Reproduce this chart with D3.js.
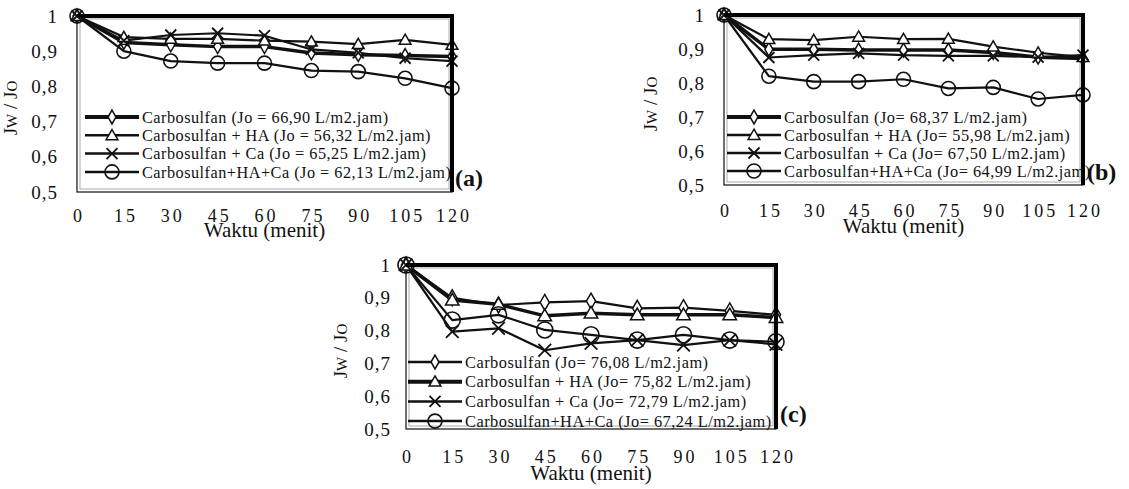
<!DOCTYPE html>
<html>
<head>
<meta charset="utf-8">
<script src="https://cdn.jsdelivr.net/npm/d3@7"></script>
<style>
  body { margin: 0; background: #fff; }
  svg text { font-family: "Liberation Serif", "Times New Roman", serif; fill: #111; }
  .tick-x { letter-spacing: 3px; }
  .leg { letter-spacing: 0.5px; }
</style>
</head>
<body>
<svg id="chart" width="1129" height="489"></svg>
<script>
// x values (minutes) and axis ticks
const waktu = [0, 15, 30, 45, 60, 75, 90, 105, 120];
const yTicks = [0.5, 0.6, 0.7, 0.8, 0.9, 1];

// panel (a)
const legendA = ["Carbosulfan (Jo = 66,90 L/m2.jam)", "Carbosulfan + HA (Jo = 56,32 L/m2.jam)",
                 "Carbosulfan + Ca (Jo = 65,25 L/m2.jam)", "Carbosulfan+HA+Ca (Jo = 62,13 L/m2.jam)"];
const carboA = [1, 0.925, 0.918, 0.913, 0.913, 0.895, 0.89, 0.888, 0.885];
const haA    = [1, 0.94, 0.935, 0.935, 0.93, 0.927, 0.92, 0.932, 0.918];
const caA    = [1, 0.93, 0.946, 0.951, 0.944, 0.905, 0.895, 0.88, 0.872];
const hacaA  = [1, 0.9, 0.872, 0.866, 0.866, 0.845, 0.842, 0.823, 0.795];

// panel (b)
const legendB = ["Carbosulfan (Jo= 68,37 L/m2.jam)", "Carbosulfan + HA (Jo= 55,98 L/m2.jam)",
                 "Carbosulfan + Ca (Jo= 67,50 L/m2.jam)", "Carbosulfan+HA+Ca (Jo= 64,99 L/m2.jam)"];
const carboB = [1, 0.899, 0.899, 0.897, 0.897, 0.897, 0.89, 0.876, 0.872];
const haB    = [1, 0.929, 0.926, 0.936, 0.929, 0.93, 0.907, 0.889, 0.876];
const caB    = [1, 0.875, 0.882, 0.887, 0.882, 0.88, 0.88, 0.876, 0.882];
const hacaB  = [1, 0.82, 0.804, 0.804, 0.811, 0.784, 0.787, 0.753, 0.765];

// panel (c)
const legendC = ["Carbosulfan (Jo= 76,08 L/m2.jam)", "Carbosulfan + HA (Jo= 75,82 L/m2.jam)",
                 "Carbosulfan + Ca (Jo= 72,79 L/m2.jam)", "Carbosulfan+HA+Ca (Jo= 67,24 L/m2.jam)"];
const carboC = [1, 0.9, 0.878, 0.886, 0.89, 0.868, 0.87, 0.86, 0.848];
const haC    = [1, 0.893, 0.88, 0.845, 0.853, 0.848, 0.848, 0.848, 0.84];
const caC    = [1, 0.797, 0.807, 0.74, 0.761, 0.771, 0.756, 0.771, 0.758];
const hacaC  = [1, 0.832, 0.848, 0.802, 0.787, 0.771, 0.787, 0.771, 0.766];

const markers = ["diamond", "triangle", "cross", "circle"];

// legW = width of the first legend entry's text in the reference
const panels = [
  { tag: "(a)", legend: legendA, series: [carboA, haA, caA, hacaA], thick: 0, clip: true,
    x0: 77, x1: 452, yTop: 16, yBot: 192, tickY: 216, titleY: 237, yLabelX: 17, yTickGap: 19,
    legX: 85, legY: 117, legDy: 18.3, legW: 246, tagX: 455, tagY: 186 },
  { tag: "(b)", legend: legendB, series: [carboB, haB, caB, hacaB], thick: 0, clip: false,
    x0: 724, x1: 1083, yTop: 15, yBot: 185, tickY: 211, titleY: 233, yLabelX: 657, yTickGap: 19,
    legX: 727, legY: 117, legDy: 18, legW: 243, tagX: 1087, tagY: 180 },
  { tag: "(c)", legend: legendC, series: [carboC, haC, caC, hacaC], thick: 1, clip: false,
    x0: 406, x1: 776, yTop: 265, yBot: 429, tickY: 457, titleY: 480, yLabelX: 347, yTickGap: 15,
    legX: 408, legY: 362, legDy: 19.7, legW: 243, tagX: 780, tagY: 422 }
];

const svg = d3.select("#chart");

function drawMarker(g, type, cx, cy, big) {
  const s = big ? 1.15 : 1;
  if (type === "circle") {
    g.append("circle").attr("cx", cx).attr("cy", cy).attr("r", 7 * s)
      .attr("fill", "none").attr("stroke", "#111").attr("stroke-width", 1.6);
  } else if (type === "cross") {
    const r = 5.5 * s;
    g.append("path")
      .attr("d", `M${cx - r},${cy - r}L${cx + r},${cy + r}M${cx - r},${cy + r}L${cx + r},${cy - r}`)
      .attr("stroke", "#111").attr("stroke-width", 1.8);
  } else {
    const sym = type === "diamond" ? d3.symbolDiamond : d3.symbolTriangle;
    const size = type === "diamond" ? 55 : 60;
    g.append("path").attr("d", d3.symbol(sym, size * s * s)())
      .attr("transform", `translate(${cx},${cy + (type === "triangle" ? 1 : 0)})`)
      .attr("fill", "#fff").attr("stroke", "#111").attr("stroke-width", 1.5);
  }
}

panels.forEach((p, pi) => {
  const g = svg.append("g");
  const x = d3.scaleLinear().domain([0, 120]).range([p.x0, p.x1]);
  const y = d3.scaleLinear().domain([0.5, 1]).range([p.yBot, p.yTop]);

  // frame: thin double line (left/bottom) + thick top/right
  g.append("rect").attr("x", p.x0).attr("y", p.yTop).attr("width", p.x1 - p.x0).attr("height", p.yBot - p.yTop)
    .attr("fill", "none").attr("stroke", "#222").attr("stroke-width", 1.3);
  g.append("rect").attr("x", p.x0 + 3).attr("y", p.yTop + 3).attr("width", p.x1 - p.x0 - 6).attr("height", p.yBot - p.yTop - 6)
    .attr("fill", "none").attr("stroke", "#aaa").attr("stroke-width", 1);

  // y tick labels
  const yAxis = d3.axisLeft(y).tickValues(yTicks).tickSize(0).tickPadding(p.yTickGap)
    .tickFormat(d => d === 1 ? "1" : d3.format(".1f")(d).replace(".", ","));
  const ya = g.append("g").attr("transform", `translate(${p.x0},0)`).call(yAxis);
  ya.select(".domain").remove();
  ya.selectAll("text").attr("font-size", 19).attr("font-family", "Liberation Serif")
    .attr("letter-spacing", "1px").attr("fill", "#222");

  // x tick labels
  const xAxis = d3.axisBottom(x).tickValues(waktu).tickSize(0).tickPadding(0);
  const xa = g.append("g").attr("transform", `translate(0,${p.tickY})`).call(xAxis);
  xa.select(".domain").remove();
  xa.selectAll("text").attr("class", "tick-x").attr("font-size", 18).attr("font-family", "Liberation Serif")
    .attr("fill", "#222").attr("dy", "0.35em").attr("dx", "1.5px");

  // axis titles
  g.append("text").attr("x", (p.x0 + p.x1) / 2).attr("y", p.titleY).attr("text-anchor", "middle")
    .attr("font-size", 21).text("Waktu (menit)");
  const yl = g.append("text").attr("transform", `translate(${p.yLabelX},${(p.yTop + p.yBot) / 2 + 4}) rotate(-90)`)
    .attr("text-anchor", "middle").attr("font-size", 19);
  yl.append("tspan").text("J");
  yl.append("tspan").attr("font-size", 15).text("W");
  yl.append("tspan").text(" / J");
  yl.append("tspan").attr("font-size", 15).text("O");

  // legend
  let clipId = null;
  if (p.clip) {
    clipId = "clip" + pi;
    svg.append("clipPath").attr("id", clipId).append("rect")
      .attr("x", p.x0).attr("y", p.yTop).attr("width", p.x1 - p.x0 - 1).attr("height", p.yBot - p.yTop);
  }
  const lg = g.append("g");
  if (clipId) lg.attr("clip-path", `url(#${clipId})`);
  const texts = [];
  p.legend.forEach((t, i) => {
    const ly = p.legY + i * p.legDy;
    lg.append("line").attr("x1", p.legX).attr("x2", p.legX + 54).attr("y1", ly).attr("y2", ly)
      .attr("stroke", "#111").attr("stroke-width", i === p.thick ? 4 : 2.5);
    drawMarker(lg, markers[i], p.legX + 27, ly, false);
    texts.push(lg.append("text").attr("class", "leg").attr("x", p.legX + 57).attr("y", ly).attr("dy", "0.35em")
      .attr("font-size", 17).text(t));
  });
  // size legend font so the first entry spans the same width as in the reference
  const w0 = texts[0].node().getComputedTextLength();
  const fs = Math.max(12, Math.min(22, 17 * p.legW / w0));
  texts.forEach(t => t.attr("font-size", fs.toFixed(2)));

  // series lines + markers
  const line = d3.line().x((d, i) => x(waktu[i])).y(d => y(d));
  p.series.forEach((vals, si) => {
    g.append("path").datum(vals).attr("d", line).attr("fill", "none")
      .attr("stroke", "#111").attr("stroke-width", si === p.thick ? 3.5 : 2.2)
      .attr("stroke-linejoin", "round");
  });
  p.series.forEach((vals, si) => {
    const mg = g.append("g");
    vals.forEach((v, i) => drawMarker(mg, markers[si], x(waktu[i]), y(v), pi === 2));
  });

  // thick top and right border
  g.append("path").attr("d", `M${p.x0},${p.yTop}H${p.x1}V${p.yBot}`)
    .attr("fill", "none").attr("stroke", "#000").attr("stroke-width", 4);

  // panel tag
  g.append("text").attr("x", p.tagX).attr("y", p.tagY).attr("font-size", 24)
    .attr("font-weight", "bold").text(p.tag);
});
</script>
</body>
</html>
